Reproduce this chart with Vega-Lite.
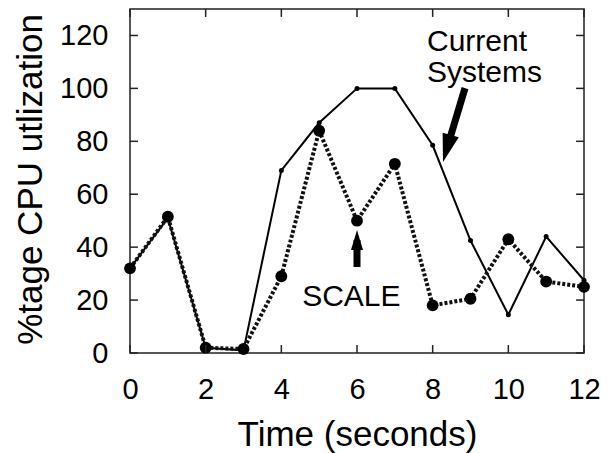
{
  "$schema": "https://vega.github.io/schema/vega-lite/v6.json",
  "width": 454,
  "height": 344,
  "autosize": "none",
  "padding": {"left": 130, "top": 9, "right": 23, "bottom": 100},
  "background": "white",
  "config": {
    "view": {"stroke": "#222", "strokeWidth": 1.5},
    "font": "Liberation Sans",
    "axis": {
      "domain": false,
      "grid": false,
      "ticks": false,
      "labelFlush": false,
      "labelOverlap": false,
      "labelFont": "Liberation Sans",
      "labelFontSize": 29,
      "labelColor": "#000",
      "titleFont": "Liberation Sans",
      "titleFontSize": 35,
      "titleFontWeight": "normal",
      "titleColor": "#000"
    }
  },
  "datasets": {
    "series": [
      {"series": "Current Systems", "t": 0, "v": 32},
      {"series": "Current Systems", "t": 1, "v": 51},
      {"series": "Current Systems", "t": 2, "v": 2},
      {"series": "Current Systems", "t": 3, "v": 1},
      {"series": "Current Systems", "t": 4, "v": 69},
      {"series": "Current Systems", "t": 5, "v": 87},
      {"series": "Current Systems", "t": 6, "v": 100},
      {"series": "Current Systems", "t": 7, "v": 100},
      {"series": "Current Systems", "t": 8, "v": 78.5},
      {"series": "Current Systems", "t": 9, "v": 42.5},
      {"series": "Current Systems", "t": 10, "v": 14.5},
      {"series": "Current Systems", "t": 11, "v": 44},
      {"series": "Current Systems", "t": 12, "v": 27.5},
      {"series": "SCALE", "t": 0, "v": 32},
      {"series": "SCALE", "t": 1, "v": 51.5},
      {"series": "SCALE", "t": 2, "v": 2},
      {"series": "SCALE", "t": 3, "v": 1.5},
      {"series": "SCALE", "t": 4, "v": 29},
      {"series": "SCALE", "t": 5, "v": 84},
      {"series": "SCALE", "t": 6, "v": 50},
      {"series": "SCALE", "t": 7, "v": 71.5},
      {"series": "SCALE", "t": 8, "v": 18},
      {"series": "SCALE", "t": 9, "v": 20.5},
      {"series": "SCALE", "t": 10, "v": 43},
      {"series": "SCALE", "t": 11, "v": 27},
      {"series": "SCALE", "t": 12, "v": 25}
    ],
    "labels": [
      {"label": "Current", "t": 7.85, "v": 114},
      {"label": "Systems", "t": 7.85, "v": 102.3},
      {"label": "SCALE", "t": 4.55, "v": 17.7}
    ],
    "arrows": [
      {"arrow": "Current Systems", "t": 8.855, "v": 100.1, "t2": 8.375, "v2": 77.3},
      {"arrow": "SCALE", "t": 6, "v": 32.5, "t2": 6, "v2": 42.7}
    ],
    "xticks": [{"t": 0}, {"t": 2}, {"t": 4}, {"t": 6}, {"t": 8}, {"t": 10}, {"t": 12}],
    "yticks": [{"v": 0}, {"v": 20}, {"v": 40}, {"v": 60}, {"v": 80}, {"v": 100}, {"v": 120}]
  },
  "layer": [
    {
      "data": {"name": "series"},
      "transform": [{"filter": "datum.series === 'Current Systems'"}],
      "mark": {"type": "line", "color": "#000", "strokeWidth": 2},
      "encoding": {
        "x": {"field": "t", "type": "quantitative", "scale": {"domain": [0, 12], "nice": false},
          "axis": {"orient": "bottom", "values": [0, 2, 4, 6, 8, 10, 12], "labelPadding": 22, "title": "Time (seconds)", "titleY": 92, "titleBaseline": "alphabetic"}},
        "y": {"field": "v", "type": "quantitative", "scale": {"domain": [0, 130], "nice": false},
          "axis": {"orient": "left", "values": [0, 20, 40, 60, 80, 100, 120], "labelPadding": 22, "title": "%tage CPU utlization", "titleX": -89, "titleY": 170, "titleBaseline": "alphabetic"}}
      }
    },
    {
      "data": {"name": "series"},
      "transform": [{"filter": "datum.series === 'SCALE'"}],
      "mark": {"type": "line", "color": "#111", "strokeWidth": 4, "strokeDash": [3, 2]},
      "encoding": {
        "x": {"field": "t", "type": "quantitative", "axis": null},
        "y": {"field": "v", "type": "quantitative", "axis": null}
      }
    },
    {
      "data": {"name": "series"},
      "transform": [{"filter": "datum.series === 'Current Systems'"}],
      "mark": {"type": "point", "filled": true, "color": "#000", "size": 25, "opacity": 1},
      "encoding": {
        "x": {"field": "t", "type": "quantitative", "axis": null},
        "y": {"field": "v", "type": "quantitative", "axis": null}
      }
    },
    {
      "data": {"name": "series"},
      "transform": [{"filter": "datum.series === 'SCALE'"}],
      "mark": {"type": "point", "filled": true, "color": "#000", "size": 140, "opacity": 1},
      "encoding": {
        "x": {"field": "t", "type": "quantitative", "axis": null},
        "y": {"field": "v", "type": "quantitative", "axis": null}
      }
    },
    {
      "data": {"name": "labels"},
      "mark": {"type": "text", "align": "left", "baseline": "alphabetic", "fontSize": 30, "font": "Liberation Sans", "color": "#000"},
      "encoding": {
        "x": {"field": "t", "type": "quantitative", "axis": null},
        "y": {"field": "v", "type": "quantitative", "axis": null},
        "text": {"field": "label"}
      }
    },
    {
      "data": {"name": "arrows"},
      "mark": {"type": "rule", "color": "#000", "strokeWidth": 7, "strokeCap": "butt"},
      "encoding": {
        "x": {"field": "t", "type": "quantitative", "axis": null},
        "y": {"field": "v", "type": "quantitative", "axis": null},
        "x2": {"field": "t2"},
        "y2": {"field": "v2"}
      }
    },
    {
      "data": {"name": "arrows"},
      "transform": [{"filter": "datum.arrow === 'Current Systems'"}],
      "mark": {"type": "point", "shape": "M0,-1L0.6,1L-0.6,1Z", "angle": 196, "size": 784, "filled": true, "color": "#000", "opacity": 1},
      "encoding": {
        "x": {"field": "t2", "type": "quantitative", "axis": null},
        "y": {"field": "v2", "type": "quantitative", "axis": null}
      }
    },
    {
      "data": {"name": "arrows"},
      "transform": [{"filter": "datum.arrow === 'SCALE'"}],
      "mark": {"type": "point", "shape": "M0,-1L0.6,1L-0.6,1Z", "angle": 0, "size": 400, "filled": true, "color": "#000", "opacity": 1},
      "encoding": {
        "x": {"field": "t2", "type": "quantitative", "axis": null},
        "y": {"field": "v2", "type": "quantitative", "axis": null}
      }
    },
    {
      "data": {"name": "xticks"},
      "mark": {"type": "rule", "color": "#222", "strokeWidth": 1.5},
      "encoding": {
        "x": {"field": "t", "type": "quantitative", "axis": null},
        "y": {"datum": 0, "type": "quantitative", "axis": null},
        "y2": {"datum": 3}
      }
    },
    {
      "data": {"name": "xticks"},
      "mark": {"type": "rule", "color": "#222", "strokeWidth": 1.5},
      "encoding": {
        "x": {"field": "t", "type": "quantitative", "axis": null},
        "y": {"datum": 130, "type": "quantitative", "axis": null},
        "y2": {"datum": 127}
      }
    },
    {
      "data": {"name": "yticks"},
      "mark": {"type": "rule", "color": "#222", "strokeWidth": 1.5},
      "encoding": {
        "y": {"field": "v", "type": "quantitative", "axis": null},
        "x": {"datum": 0, "type": "quantitative", "axis": null},
        "x2": {"datum": 0.21}
      }
    },
    {
      "data": {"name": "yticks"},
      "mark": {"type": "rule", "color": "#222", "strokeWidth": 1.5},
      "encoding": {
        "y": {"field": "v", "type": "quantitative", "axis": null},
        "x": {"datum": 12, "type": "quantitative", "axis": null},
        "x2": {"datum": 11.79}
      }
    }
  ],
  "resolve": {"axis": {"x": "independent", "y": "independent"}}
}
